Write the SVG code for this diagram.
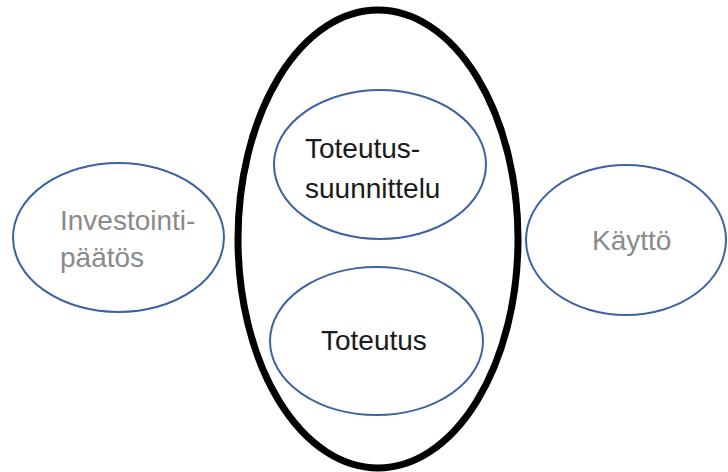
<svg xmlns="http://www.w3.org/2000/svg" width="728" height="472" viewBox="0 0 728 472">
  <style>
    .phase { fill: #ffffff; stroke: #3b62a2; stroke-width: 2; }
    .frame { fill: none; stroke: #000000; stroke-width: 7; }
    .lbl { font-family: "Liberation Sans", Arial, sans-serif; font-size: 28px; }
    .dark { fill: #1a1a1a; }
    .muted { fill: #8a8a8a; }
  </style>
  <rect width="728" height="472" fill="#ffffff"/>

  <g id="investointipaatos">
    <ellipse class="phase" cx="118.5" cy="237.5" rx="105.5" ry="74.5"/>
    <text class="lbl muted" x="60" y="230">Investointi-</text>
    <text class="lbl muted" x="60" y="267">päätös</text>
  </g>

  <g id="toteutusvaihe">
    <ellipse class="frame" cx="378" cy="239" rx="140" ry="229"/>
  </g>

  <g id="toteutussuunnittelu">
    <ellipse class="phase" cx="380" cy="164.5" rx="106" ry="74.5"/>
    <text class="lbl dark" x="305" y="158">Toteutus-</text>
    <text class="lbl dark" x="305" y="198">suunnittelu</text>
  </g>

  <g id="toteutus">
    <ellipse class="phase" cx="376.5" cy="341" rx="106.5" ry="74"/>
    <text class="lbl dark" x="321" y="350">Toteutus</text>
  </g>

  <g id="kaytto">
    <ellipse class="phase" cx="626" cy="240" rx="100" ry="75"/>
    <text class="lbl muted" x="592" y="250">Käyttö</text>
  </g>

  <g id="connectors"></g>
</svg>
